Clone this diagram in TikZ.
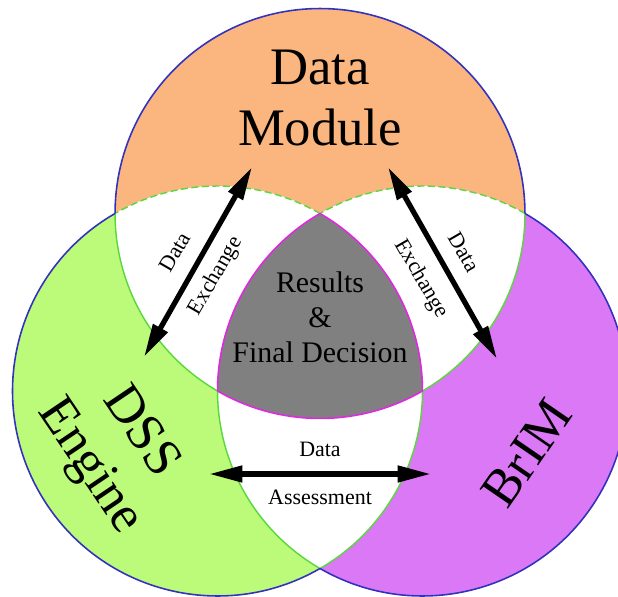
\documentclass[tikz,border=0pt]{standalone}
\usepackage{fontspec}
\setmainfont{Liberation Serif}
\usetikzlibrary{arrows.meta}
\definecolor{orangeC}{RGB}{250,182,126}
\definecolor{greenC}{RGB}{187,251,121}
\definecolor{purpleC}{RGB}{218,120,245}
\definecolor{grayC}{RGB}{128,128,128}
\definecolor{blueC}{RGB}{50,50,190}
\definecolor{magC}{RGB}{225,40,225}
\definecolor{lineG}{RGB}{90,215,60}
\begin{document}
\begin{tikzpicture}[x=0.02cm,y=0.02cm,
  outer/.style={draw=blueC,line width=0.9pt},
  inner/.style={draw=lineG,line width=0.8pt},
  innerdash/.style={draw=lineG,line width=0.8pt,dash pattern=on 4pt off 2pt},
  core/.style={draw=magC,line width=0.9pt},
  dblarrow/.style={line width=3pt,{Triangle[length=19pt,width=9pt]}-{Triangle[length=19pt,width=9pt]}},
  big/.style={font=\fontsize{30}{35}\selectfont,align=center,inner sep=0pt},
  mid/.style={font=\fontsize{17}{20}\selectfont,align=center,inner sep=0pt},
  small/.style={font=\fontsize{12.5}{14}\selectfont,inner sep=0pt}]
\useasboundingbox (0,0) rectangle (618,597);
\clip (0,0) rectangle (618,597);
\def\rr{4.1cm}
\coordinate (T) at (320,383.5);
\coordinate (L) at (217.5,206);
\coordinate (R) at (422.5,206);
% fills
\fill[orangeC] (T) circle (\rr);
\fill[greenC] (L) circle (\rr);
\fill[purpleC] (R) circle (\rr);
\begin{scope}
  \clip (T) circle (\rr);
  \fill[white] (L) circle (\rr);
  \fill[white] (R) circle (\rr);
\end{scope}
\begin{scope}
  \clip (L) circle (\rr);
  \fill[white] (R) circle (\rr);
\end{scope}
\begin{scope}
  \clip (T) circle (\rr);
  \clip (L) circle (\rr);
  \fill[grayC] (R) circle (\rr);
\end{scope}
% inner boundaries
\draw[inner] (T) ++(180:\rr) arc[start angle=180,end angle=240,radius=\rr];
\draw[inner] (T) ++(300:\rr) arc[start angle=300,end angle=360,radius=\rr];
\draw[inner] (L) ++(300:\rr) arc[start angle=300,end angle=360,radius=\rr];
\draw[inner] (R) ++(180:\rr) arc[start angle=180,end angle=240,radius=\rr];
\draw[innerdash] (L) ++(60:\rr) arc[start angle=60,end angle=120,radius=\rr];
\draw[innerdash] (R) ++(60:\rr) arc[start angle=60,end angle=120,radius=\rr];
% core boundary
\draw[core] (T) ++(240:\rr) arc[start angle=240,end angle=300,radius=\rr];
\draw[core] (L) ++(0:\rr) arc[start angle=0,end angle=60,radius=\rr];
\draw[core] (R) ++(120:\rr) arc[start angle=120,end angle=180,radius=\rr];
% outer boundaries
\draw[outer] (T) ++(0:\rr) arc[start angle=0,end angle=180,radius=\rr];
\draw[outer] (L) ++(120:\rr) arc[start angle=120,end angle=300,radius=\rr];
\draw[outer] (R) ++(-120:\rr) arc[start angle=-120,end angle=60,radius=\rr];
% main labels
\node[big] (dm) at (320,499) {Data\\Module};
\node[mid] (res) at (320,280) {Results\\\&\\Final Decision};
\node[big,rotate=-56] (dss) at (114,147) {DSS\\Engine};
\node[big,rotate=55.5] (brim) at (527,144) {BrIM};
% arrows
\coordinate (la) at (144,240);
\coordinate (lb) at (252,430);
\coordinate (ra) at (388,430);
\coordinate (rb) at (497,238);
\coordinate (ba) at (209,123);
\coordinate (bb) at (431,123);
\draw[dblarrow] (la) -- (lb);
\draw[dblarrow] (ra) -- (rb);
\draw[dblarrow] (ba) -- (bb);
% arrow labels
\node[small,rotate=60] (l1) at (175,345) {Data};
\node[small,rotate=60] (l2) at (216,321) {Exchange};
\node[small,rotate=-60] (r1) at (464,345) {Data};
\node[small,rotate=-60] (r2) at (421,318) {Exchange};
\node[small] (b1) at (320,148) {Data};
\node[small] (b2) at (320,100) {Assessment};
\end{tikzpicture}
\end{document}
